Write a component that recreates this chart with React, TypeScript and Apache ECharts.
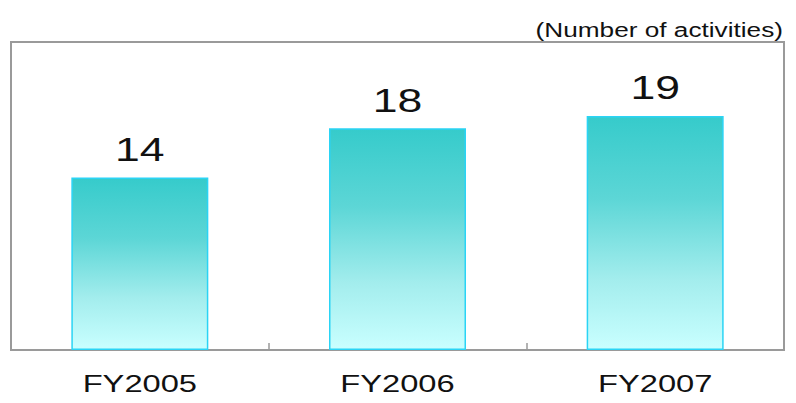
import React, { useEffect, useRef } from "react";
import * as echarts from "echarts";

const categories = ["FY2005", "FY2006", "FY2007"];
const activityCounts = [14, 18, 19];
const unitLabel = "(Number of activities)";
const yMax = 25;

const FONT = "'Liberation Sans', Arial, sans-serif";

export default function App() {
  const ref = useRef<HTMLDivElement>(null);

  useEffect(() => {
    if (!ref.current) return;
    const chart = echarts.init(ref.current, undefined, { renderer: "svg" });

    const option: any = {
      animation: false,
      grid: {
        show: true,
        left: 11,
        right: 12,
        top: 42,
        bottom: 53,
        borderColor: "#9a9a9a",
        borderWidth: 2,
        backgroundColor: "#fff",
      },
      xAxis: {
        type: "category",
        data: categories,
        axisLine: { show: true, lineStyle: { color: "#9a9a9a", width: 2 } },
        axisTick: { show: true, inside: true, length: 7, lineStyle: { color: "#9a9a9a", width: 1.5 } },
        axisLabel: { show: false },
        splitLine: { show: false },
      },
      yAxis: {
        type: "value",
        min: 0,
        max: yMax,
        show: false,
        splitLine: { show: false },
      },
      graphic: [
        {
          type: "text",
          x: 783,
          y: 30,
          scaleX: 1.31,
          style: {
            text: unitLabel,
            fontSize: 20,
            fontFamily: FONT,
            fill: "#111",
            align: "right",
            verticalAlign: "middle",
          },
        },
      ],
      series: [
        {
          type: "bar",
          data: activityCounts,
          barWidth: 137,
          itemStyle: {
            borderColor: "#2ad4f5",
            borderWidth: 1.5,
            color: new echarts.graphic.LinearGradient(0, 0, 0, 1, [
              { offset: 0, color: "#36cbcb" },
              { offset: 0.35, color: "#5cd6d6" },
              { offset: 0.7, color: "#a3eded" },
              { offset: 1, color: "#c9ffff" },
            ]),
          },
          z: 2,
        },
        {
          // value labels above each bar and category labels under the axis
          type: "custom",
          clip: false,
          z: 5,
          data: categories.map((c, i) => [i, activityCounts[i]]),
          renderItem: (params: any, api: any) => {
            const idx = api.value(0);
            const val = api.value(1);
            const top = api.coord([idx, val]);
            const base = api.coord([idx, 0]);
            return {
              type: "group",
              children: [
                {
                  type: "text",
                  x: top[0],
                  y: top[1] - 28,
                  scaleX: 1.35,
                  style: {
                    text: String(val),
                    fontSize: 33,
                    fontFamily: FONT,
                    fill: "#111",
                    align: "center",
                    verticalAlign: "middle",
                  },
                },
                {
                  type: "text",
                  x: base[0],
                  y: base[1] + 34,
                  scaleX: 1.42,
                  style: {
                    text: categories[idx],
                    fontSize: 23,
                    fontFamily: FONT,
                    fill: "#111",
                    align: "center",
                    verticalAlign: "middle",
                  },
                },
              ],
            };
          },
        },
      ],
    };

    chart.setOption(option);
    return () => chart.dispose();
  }, []);

  return (
    <div
      ref={ref}
      style={{ position: "fixed", left: 0, top: 0, width: 796, height: 403, background: "#fff" }}
    />
  );
}
